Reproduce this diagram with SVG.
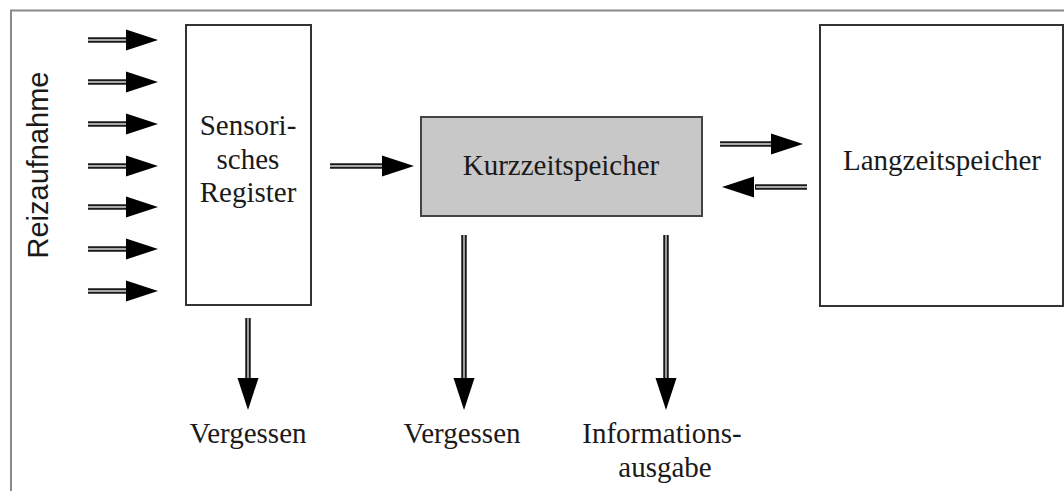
<svg xmlns="http://www.w3.org/2000/svg" xmlns:xlink="http://www.w3.org/1999/xlink" width="1064" height="491" viewBox="0 0 1064 491">
<style>
.frame{fill:none;stroke:#8a8a8a;stroke-width:2}
.box{fill:#fff;stroke:#333;stroke-width:2}
.grey{fill:#c8c8c8;stroke:#444;stroke-width:2}
.t{font-family:"Liberation Serif","Times New Roman",serif;font-size:29px;fill:#1a1a1a;text-anchor:middle}
.s{font-family:"Liberation Sans",Arial,sans-serif;font-size:29px;fill:#1a1a1a;text-anchor:middle}
.sh{stroke:#1a1a1a;stroke-width:5.5;fill:none}
.si{stroke:#a8a8a8;stroke-width:1.8;fill:none}
.hd{fill:#000}
</style>
<defs>
<path id="head" d="M0,0 L-32,-10.5 L-32,10.5 Z"/>
</defs>
<rect class="frame" x="11" y="10.5" width="1080" height="500"/>
<g id="reizaufnahme">
<text class="s" transform="translate(48,165) rotate(-90)">Reizaufnahme</text>
</g>
<g id="sensorisches-register">
<rect class="box" x="186" y="25" width="125" height="280"/>
<text class="t" x="248" y="135">Sensori-</text>
<text class="t" x="248" y="168.5">sches</text>
<text class="t" x="248" y="202">Register</text>
</g>
<g id="kurzzeitspeicher">
<rect class="grey" x="421" y="117" width="281" height="99"/>
<text class="t" x="561" y="175">Kurzzeitspeicher</text>
</g>
<g id="langzeitspeicher">
<rect class="box" x="820" y="25" width="243" height="281"/>
<text class="t" x="942" y="170">Langzeitspeicher</text>
</g>
<g id="vergessen-1"><text class="t" x="248" y="443">Vergessen</text></g>
<g id="vergessen-2"><text class="t" x="462" y="443">Vergessen</text></g>
<g id="informationsausgabe">
<text class="t" x="662" y="443">Informations-</text>
<text class="t" x="665" y="477">ausgabe</text>
</g>
<g id="connectors">
<g class="sh">
<path d="M88,40H127M88,82H127M88,124H127M88,166H127M88,207H127M88,249H127M88,291H127"/>
<path d="M330,166H384M720,144H773M755,187H807"/>
<path d="M248,318V380M464,235V380M666,235V380"/>
</g>
<g class="si">
<path d="M88,40H126M88,82H126M88,124H126M88,166H126M88,207H126M88,249H126M88,291H126"/>
<path d="M330,166H383M720,144H772M756,187H807"/>
<path d="M248,318V379M464,235V379M666,235V379"/>
</g>
<g class="hd">
<use xlink:href="#head" transform="translate(158,40)"/>
<use xlink:href="#head" transform="translate(158,82)"/>
<use xlink:href="#head" transform="translate(158,124)"/>
<use xlink:href="#head" transform="translate(158,166)"/>
<use xlink:href="#head" transform="translate(158,207)"/>
<use xlink:href="#head" transform="translate(158,249)"/>
<use xlink:href="#head" transform="translate(158,291)"/>
<use xlink:href="#head" transform="translate(414,166)"/>
<use xlink:href="#head" transform="translate(803,144)"/>
<use xlink:href="#head" transform="translate(722,187) rotate(180)"/>
<use xlink:href="#head" transform="translate(248,410) rotate(90)"/>
<use xlink:href="#head" transform="translate(464,410) rotate(90)"/>
<use xlink:href="#head" transform="translate(666,410) rotate(90)"/>
</g>
</g>
</svg>
